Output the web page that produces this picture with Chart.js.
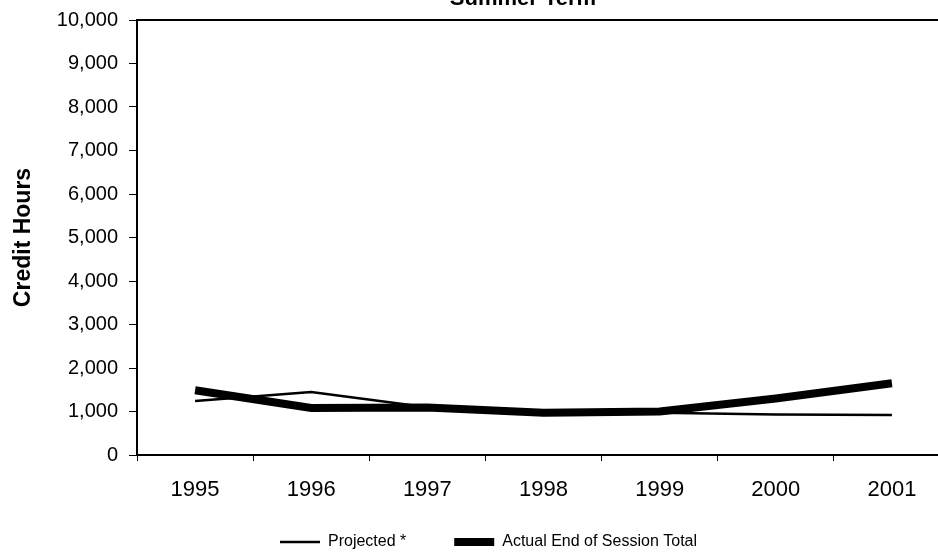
<!DOCTYPE html>
<html>
<head>
<meta charset="utf-8">
<script src="https://cdn.jsdelivr.net/npm/chart.js@4/dist/chart.umd.min.js"></script>
<style>
html, body { margin: 0; padding: 0; overflow: hidden; background: #fff; width: 938px; height: 556px; }
#wrap { width: 950px; height: 556px; position: relative; }
</style>
</head>
<body>
<div id="wrap"><canvas id="c"></canvas></div>
<script>
const chartTitle = 'Summer Term';
const years = ['1995', '1996', '1997', '1998', '1999', '2000', '2001'];
const projected = [1240, 1450, 1100, 970, 970, 930, 920];
const actual = [1490, 1080, 1090, 970, 1000, 1300, 1650];
const yAxisTitle = 'Credit Hours';
const seriesNames = ['Projected *', 'Actual End of Session Total'];

const FONT = 'Liberation Sans, Arial, sans-serif';

const framePlugin = {
  id: 'frame',
  afterLayout(chart) {
    const lg = chart.legend;
    if (lg) {
      const dx = -55, dy = -21;
      lg.left += dx; lg.right += dx;
      lg.top += dy; lg.bottom += dy;
    }
  },
  beforeDatasetsDraw(chart) {
    const { ctx, chartArea: a } = chart;
    ctx.save();
    ctx.strokeStyle = '#000';
    ctx.lineWidth = 2;
    ctx.strokeRect(a.left, a.top, a.right - a.left, a.bottom - a.top);
    ctx.restore();
  },
  afterDraw(chart) {
    const { ctx } = chart;
    ctx.save();
    ctx.fillStyle = '#000';
    ctx.font = 'bold 22px ' + FONT;
    ctx.textAlign = 'center';
    ctx.textBaseline = 'alphabetic';
    ctx.fillText(chartTitle, 523, 5);
    ctx.restore();
  }
};

new Chart(document.getElementById('c'), {
  type: 'line',
  data: {
    labels: years,
    datasets: [
      { label: seriesNames[0], data: projected, borderColor: '#000', backgroundColor: '#000', borderWidth: 2.5, pointRadius: 0, tension: 0 },
      { label: seriesNames[1], data: actual, borderColor: '#000', backgroundColor: '#000', borderWidth: 8, pointRadius: 0, tension: 0 }
    ]
  },
  options: {
    responsive: true,
    maintainAspectRatio: false,
    animation: false,
    layout: { padding: { top: 19, left: 0, right: 0, bottom: -25 } },
    plugins: {
      title: { display: false },
      tooltip: { enabled: false },
      legend: {
        position: 'bottom',
        fullSize: false,
        labels: {
          usePointStyle: true,
          pointStyle: 'line',
          pointStyleWidth: 40,
          boxHeight: 16,
          padding: 48,
          color: '#000',
          font: { family: FONT, size: 16 }
        }
      }
    },
    scales: {
      x: {
        offset: true,
        grid: { display: true, offset: true, drawOnChartArea: false, color: '#000', tickLength: 6, tickWidth: 1 },
        border: { display: true, color: '#000', width: 2 },
        ticks: { color: '#000', padding: 16, font: { family: FONT, size: 22 }, maxRotation: 0, autoSkip: false },
        afterFit(scale) { scale.height = 52; }
      },
      y: {
        min: 0,
        max: 10000,
        grid: { display: true, drawOnChartArea: false, color: '#000', tickLength: 8, tickWidth: 1 },
        border: { display: true, color: '#000', width: 2 },
        ticks: {
          stepSize: 1000,
          color: '#000',
          padding: 11,
          font: { family: FONT, size: 20, lineHeight: 0.9 },
          callback: v => v.toLocaleString('en-US')
        },
        title: { display: true, text: yAxisTitle, color: '#000', font: { family: FONT, size: 23, weight: 'bold' }, padding: { top: 10, bottom: 0 } },
        afterFit(scale) { scale.width = 137; }
      }
    }
  },
  plugins: [framePlugin]
});
</script>
</body>
</html>
